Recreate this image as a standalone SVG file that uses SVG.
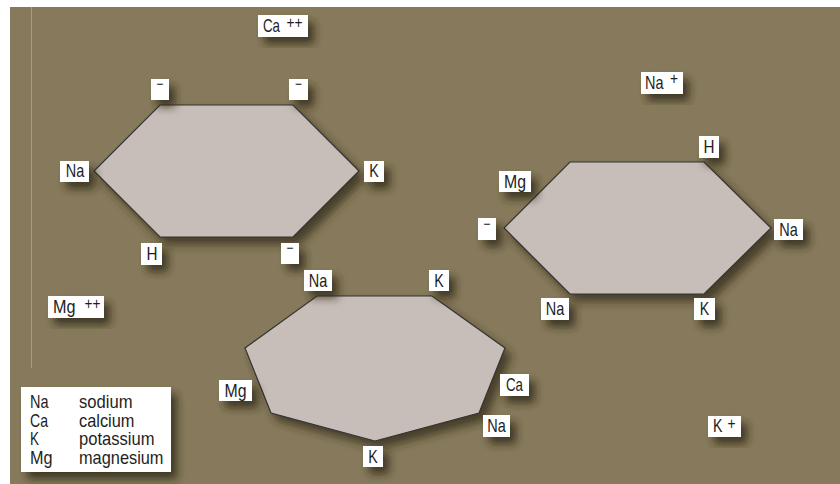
<svg xmlns="http://www.w3.org/2000/svg" width="840" height="484" viewBox="0 0 840 484">
<defs>
<filter id="sh" x="-30%" y="-30%" width="170%" height="180%">
<feDropShadow dx="6" dy="7" stdDeviation="4.5" flood-color="#2a2314" flood-opacity="0.75"/>
</filter>
<filter id="shp" x="-10%" y="-10%" width="125%" height="130%">
<feDropShadow dx="6" dy="7" stdDeviation="5" flood-color="#2a2314" flood-opacity="0.7"/>
</filter>
<style>
.bg{fill:#877A5C}
.poly{fill:#C7BEB9;stroke:#333;stroke-width:1.2;stroke-linejoin:miter}
.box{fill:#fff}
text{font-family:'Liberation Sans',Arial,sans-serif;font-size:18.5px;fill:#1e1e1e}
.c{text-anchor:middle}
.sup{font-size:16px}
.m{font-size:15px;text-anchor:middle}
</style>
</defs>
<rect x="0" y="0" width="840" height="484" fill="#fff"/>
<rect class="bg" x="10" y="7" width="830" height="477"/>
<line x1="31.5" y1="7" x2="31.5" y2="368" stroke="#A89B80" stroke-width="1"/>
<g id="connectors"/>

<g id="hexagon-left">
<polygon class="poly" filter="url(#shp)" points="160,105 293,105 359,171 293,237 160,237 94,171"/>
<g filter="url(#sh)">
<rect class="box" x="151" y="79" width="18" height="21"/>
<rect class="box" x="289" y="79" width="19" height="21"/>
<rect class="box" x="60" y="161" width="29" height="21"/>
<rect class="box" x="364" y="161" width="20" height="21"/>
<rect class="box" x="141" y="243" width="21" height="22"/>
<rect class="box" x="281" y="243" width="18" height="21"/>
</g>
<text class="m" x="160" y="88.5" textLength="7" lengthAdjust="spacingAndGlyphs">−</text>
<text class="m" x="298.5" y="88.5" textLength="7" lengthAdjust="spacingAndGlyphs">−</text>
<text class="c" x="75" y="177" textLength="18.5" lengthAdjust="spacingAndGlyphs">Na</text>
<text class="c" x="374" y="177" textLength="9.5" lengthAdjust="spacingAndGlyphs">K</text>
<text class="c" x="152" y="260" textLength="11" lengthAdjust="spacingAndGlyphs">H</text>
<text class="m" x="290" y="252.5" textLength="7" lengthAdjust="spacingAndGlyphs">−</text>
</g>

<g id="hexagon-right">
<polygon class="poly" filter="url(#shp)" points="570,162 704,162 771,228 704,294 570,294 504,228"/>
<g filter="url(#sh)">
<rect class="box" x="699" y="136" width="20" height="22"/>
<rect class="box" x="499" y="171" width="32" height="21"/>
<rect class="box" x="478" y="218" width="18" height="22"/>
<rect class="box" x="774" y="219" width="29" height="21"/>
<rect class="box" x="541" y="298" width="28" height="22"/>
<rect class="box" x="694" y="298" width="21" height="22"/>
</g>
<text class="c" x="709" y="153" textLength="11" lengthAdjust="spacingAndGlyphs">H</text>
<text class="c" x="515" y="188" textLength="22" lengthAdjust="spacingAndGlyphs">Mg</text>
<text class="m" x="487" y="228.5" textLength="7" lengthAdjust="spacingAndGlyphs">−</text>
<text class="c" x="788.5" y="236" textLength="18.5" lengthAdjust="spacingAndGlyphs">Na</text>
<text class="c" x="555" y="315" textLength="18.5" lengthAdjust="spacingAndGlyphs">Na</text>
<text class="c" x="704.5" y="315" textLength="9.5" lengthAdjust="spacingAndGlyphs">K</text>
</g>

<g id="heptagon">
<polygon class="poly" filter="url(#shp)" points="317,296 432,296 505,348 479,413 375,441 271,413 245,348"/>
<g filter="url(#sh)">
<rect class="box" x="304" y="270" width="28" height="21"/>
<rect class="box" x="429" y="270" width="20" height="21"/>
<rect class="box" x="219" y="380" width="33" height="21"/>
<rect class="box" x="500" y="374" width="29" height="22"/>
<rect class="box" x="483" y="415" width="27" height="22"/>
<rect class="box" x="363" y="446" width="20" height="21"/>
</g>
<text class="c" x="318" y="287" textLength="18.5" lengthAdjust="spacingAndGlyphs">Na</text>
<text class="c" x="439" y="287" textLength="9.5" lengthAdjust="spacingAndGlyphs">K</text>
<text class="c" x="235.5" y="397" textLength="22" lengthAdjust="spacingAndGlyphs">Mg</text>
<text class="c" x="514.5" y="391" textLength="17" lengthAdjust="spacingAndGlyphs">Ca</text>
<text class="c" x="496.5" y="432" textLength="18.5" lengthAdjust="spacingAndGlyphs">Na</text>
<text class="c" x="373" y="463" textLength="9.5" lengthAdjust="spacingAndGlyphs">K</text>
</g>

<g id="ion-ca">
<rect class="box" filter="url(#sh)" x="258" y="15" width="50" height="22"/>
<text x="263" y="32" textLength="17" lengthAdjust="spacingAndGlyphs">Ca</text>
<text class="sup" x="286.5" y="28" textLength="16" lengthAdjust="spacingAndGlyphs">++</text>
</g>
<g id="ion-na">
<rect class="box" filter="url(#sh)" x="641" y="72" width="42" height="22"/>
<text x="645" y="89" textLength="18.5" lengthAdjust="spacingAndGlyphs">Na</text>
<text class="sup" x="670" y="84" textLength="8" lengthAdjust="spacingAndGlyphs">+</text>
</g>
<g id="ion-mg">
<rect class="box" filter="url(#sh)" x="48" y="296" width="56" height="22"/>
<text x="53" y="313" textLength="22.5" lengthAdjust="spacingAndGlyphs">Mg</text>
<text class="sup" x="84.5" y="309" textLength="16" lengthAdjust="spacingAndGlyphs">++</text>
</g>
<g id="ion-k">
<rect class="box" filter="url(#sh)" x="708" y="416" width="33" height="21"/>
<text x="713" y="432" textLength="9.5" lengthAdjust="spacingAndGlyphs">K</text>
<text class="sup" x="727.5" y="429" textLength="8" lengthAdjust="spacingAndGlyphs">+</text>
</g>

<g id="legend">
<rect class="box" filter="url(#sh)" x="21" y="387" width="150" height="85"/>
<text x="30" y="408" textLength="18.5" lengthAdjust="spacingAndGlyphs">Na</text><text x="79" y="408" textLength="53.5" lengthAdjust="spacingAndGlyphs">sodium</text>
<text x="30" y="426.5" textLength="18" lengthAdjust="spacingAndGlyphs">Ca</text><text x="79" y="426.5" textLength="55.5" lengthAdjust="spacingAndGlyphs">calcium</text>
<text x="30" y="445" textLength="9" lengthAdjust="spacingAndGlyphs">K</text><text x="79" y="445" textLength="75.5" lengthAdjust="spacingAndGlyphs">potassium</text>
<text x="30" y="463.5" textLength="22.5" lengthAdjust="spacingAndGlyphs">Mg</text><text x="79" y="463.5" textLength="84.5" lengthAdjust="spacingAndGlyphs">magnesium</text>
</g>
</svg>
